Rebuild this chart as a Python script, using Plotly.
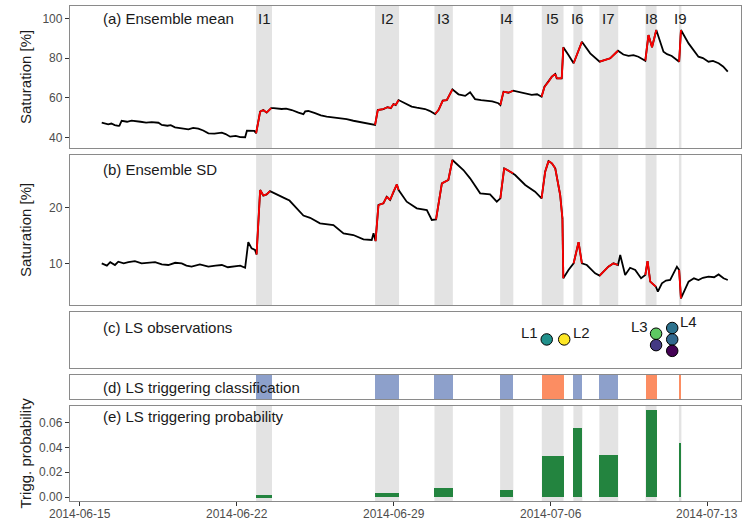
import pandas as pd
import plotly.graph_objects as go

BASE = pd.Timestamp("2014-06-15")

# ---------------- data (time in days since 2014-06-15 00:00) ----------------
mean_days = [0.97, 1.10, 1.26, 1.40, 1.55, 1.71, 1.76, 1.86, 2.10, 2.30, 2.46, 2.70, 2.95, 3.20,
             3.50, 3.65, 3.90, 4.05, 4.24, 4.50, 4.84, 5.05, 5.28, 5.50, 5.73, 6.00, 6.33, 6.50,
             6.70, 6.95, 7.15, 7.37, 7.45, 7.78, 7.86, 8.04, 8.18, 8.33, 8.53, 8.65, 9.00, 9.20,
             9.45, 9.75, 9.97, 10.05, 10.19, 10.49, 10.75, 11.01, 11.30, 11.61, 11.90, 12.20,
             12.50, 12.80, 13.17, 13.29, 13.54, 13.72, 13.87, 13.99, 14.09, 14.22, 14.58, 14.80,
             15.03, 15.20, 15.40, 15.60, 15.77, 15.85, 16.00, 16.19, 16.37, 16.62, 16.89, 17.19,
             17.41, 17.63, 17.90, 18.16, 18.40, 18.67, 18.76, 18.90, 19.12, 19.33, 19.57, 19.87,
             20.16, 20.40, 20.60, 20.73, 20.91, 21.06, 21.21, 21.28, 21.50, 21.57, 21.80, 22.03,
             22.40, 22.77, 23.19, 23.66, 24.01, 24.25, 24.48, 24.70, 24.92, 25.23, 25.37, 25.53,
             25.72, 26.04, 26.20, 26.41, 26.74, 26.82, 27.16, 27.40, 27.60, 27.80, 28.05, 28.25,
             28.50, 28.70, 28.91]
mean_vals = [47.5, 47.0, 46.7, 47.1, 46.3, 45.9, 46.0, 48.5, 48.0, 48.6, 48.5, 48.0, 47.6, 47.8,
             47.5, 46.4, 46.0, 46.3, 45.2, 44.8, 44.2, 44.9, 44.5, 43.6, 42.2, 42.0, 42.5, 41.8,
             40.5, 40.9, 40.3, 40.2, 43.5, 43.4, 42.2, 53.1, 53.9, 52.6, 54.8, 54.8, 54.4, 54.6,
             53.9, 52.6, 51.8, 53.2, 53.4, 52.3, 51.2, 50.6, 50.2, 49.7, 49.3, 48.5,
             47.9, 47.2, 46.4, 53.9, 54.4, 55.3, 54.8, 56.9, 56.4, 58.9, 56.9, 55.6,
             55.1, 54.7, 54.4, 53.5, 52.6, 51.9, 53.9, 58.6, 58.9, 64.3, 61.8, 61.0,
             62.8, 59.4, 58.9, 58.6, 58.2, 57.3, 56.4, 63.1, 62.6, 63.6, 63.0, 62.3,
             61.5, 61.8, 60.6, 65.6, 68.1, 70.7, 72.0, 69.8, 69.8, 85.4, 81.6, 77.4,
             88.2, 82.4, 78.2, 79.9, 83.7, 81.8, 81.1, 81.5, 80.7, 78.7, 91.6, 85.5,
             94.1, 83.2, 82.0, 81.1, 78.2, 94.1, 87.4, 83.5, 80.7, 80.0, 78.2, 78.6,
             77.4, 75.8, 73.2]

sd_days = [0.97, 1.20, 1.35, 1.56, 1.71, 1.95, 2.16, 2.45, 2.75, 3.05, 3.35, 3.65, 3.94, 4.25,
           4.54, 4.75, 4.98, 5.35, 5.73, 6.05, 6.33, 6.60, 6.92, 7.15, 7.37, 7.51, 7.66,
           7.81, 7.88, 8.04, 8.18, 8.33, 8.48, 8.71, 9.15, 9.35, 9.60, 9.97, 10.27, 10.71, 11.31,
           11.76, 12.20, 12.65, 13.02, 13.10, 13.19, 13.32, 13.54, 13.69, 13.84, 13.99, 14.14,
           14.22, 14.58, 15.03, 15.48, 15.70, 15.89, 16.15, 16.44, 16.62, 17.11, 17.41, 17.86,
           18.30, 18.60, 18.76, 18.93, 19.20, 19.33, 19.42, 19.87, 20.31, 20.60, 20.76, 20.91,
           21.06, 21.21, 21.43, 21.53, 21.57, 21.80, 22.03, 22.25, 22.40, 22.62, 22.99, 23.19,
           23.58, 23.81, 24.01, 24.11, 24.33, 24.55, 24.78, 25.04, 25.23, 25.33, 25.45, 25.70,
           25.79, 25.97, 26.15, 26.34, 26.64, 26.74, 26.82, 27.16, 27.40, 27.60, 27.80, 28.05,
           28.30, 28.50, 28.72, 28.91]
sd_vals = [10.0, 9.6, 10.2, 9.7, 10.3, 10.0, 10.2, 10.4, 10.0, 10.1, 10.2, 9.8, 9.7, 10.1,
           10.0, 9.6, 9.4, 9.8, 9.4, 9.6, 9.7, 9.3, 9.4, 9.6, 9.2, 13.8, 12.7,
           12.4, 11.6, 23.2, 22.2, 22.4, 23.0, 22.6, 21.7, 21.3, 20.2, 18.6, 18.2, 17.2, 16.9,
           15.4, 15.1, 14.3, 14.2, 15.4, 14.0, 20.5, 20.8, 22.0, 21.4, 22.9, 24.2,
           23.2, 21.1, 19.9, 19.6, 17.8, 17.9, 24.4, 25.0, 28.6, 26.8, 25.3, 22.6,
           22.4, 21.1, 21.7, 27.1, 26.5, 26.2, 25.9, 24.1, 22.9, 21.7, 26.5, 28.4,
           28.0, 27.1, 22.3, 18.1, 7.3, 8.8, 10.0, 13.8, 10.0, 9.7, 8.2, 7.8,
           9.4, 10.0, 9.7, 11.5, 7.9, 9.2, 8.8, 7.3, 7.9, 10.4, 6.7, 5.8,
           4.9, 6.4, 6.9, 7.0, 9.4, 8.8, 3.7, 6.7, 7.3, 7.0, 7.4, 7.6,
           7.5, 8.0, 7.3, 7.0]

interval_names = ["I1", "I2", "I3", "I4", "I5", "I6", "I7", "I8", "I9"]
interval_start = [7.86, 13.17, 15.82, 18.75, 20.61, 22.02, 23.18, 25.24, 26.73]
interval_end = [8.57, 14.24, 16.64, 19.34, 21.58, 22.42, 24.02, 25.73, 26.84]
interval_class = ["non-triggering", "non-triggering", "non-triggering", "non-triggering",
                  "triggering", "non-triggering", "non-triggering", "triggering", "triggering"]
trig_prob = [0.0016, 0.0038, 0.0078, 0.0060, 0.0332, 0.0557, 0.0337, 0.0699, 0.0436]

obs_group = ["L1", "L2", "L3", "L3", "L4", "L4", "L4"]
obs_days = [20.83, 21.61, 25.71, 25.71, 26.43, 26.43, 26.43]
obs_level = [0, 0, 1, -1, 2, 0, -2]
obs_colors = ["#21918C", "#FDE725", "#5EC962", "#443983", "#2C728E", "#31688E", "#440154"]

x_ticks = ["2014-06-15", "2014-06-22", "2014-06-29", "2014-07-06", "2014-07-13"]

# ---------------- helpers ----------------
def to_dt(days):
    return [BASE + pd.Timedelta(days=d) for d in days]

def in_interval(t):
    return any(s <= t <= e for s, e in zip(interval_start, interval_end))

def red_segments(days, vals):
    xs, ys = [], []
    for i in range(len(days) - 1):
        mid = 0.5 * (days[i] + days[i + 1])
        if in_interval(mid):
            xs += [days[i], days[i + 1], None]
            ys += [vals[i], vals[i + 1], None]
    xd = [BASE + pd.Timedelta(days=d) if d is not None else None for d in xs]
    return xd, ys

W, H = 743, 520
L, R, T, B = 70, 2, 6, 19
PW, PH = W - L - R, H - T - B

def px(x):
    return (x - L) / PW

def py(y):
    return (H - B - y) / PH

FONT = "Liberation Sans, Arial, sans-serif"
BORDER = "#8a8a8a"
BAND = "#E3E3E3"

fig = go.Figure()

# panel a / b lines
for (days, vals, ax) in [(mean_days, mean_vals, ""), (sd_days, sd_vals, "2")]:
    fig.add_trace(go.Scatter(x=to_dt(days), y=vals, mode="lines",
                             line=dict(color="black", width=1.8),
                             xaxis="x" + ax, yaxis="y" + ax, showlegend=False, hoverinfo="skip"))
    rx, ry = red_segments(days, vals)
    fig.add_trace(go.Scatter(x=rx, y=ry, mode="lines", line=dict(color="#FF0000", width=1.8),
                             xaxis="x" + ax, yaxis="y" + ax, showlegend=False, connectgaps=False,
                             hoverinfo="skip"))

# panel c: observations
fig.add_trace(go.Scatter(x=to_dt(obs_days), y=obs_level, mode="markers",
                         marker=dict(size=11.5, color=obs_colors, line=dict(color="black", width=1)),
                         xaxis="x3", yaxis="y3", showlegend=False))

centers = [BASE + pd.Timedelta(days=0.5 * (s + e)) for s, e in zip(interval_start, interval_end)]
widths_ms = [(e - s) * 86400000 for s, e in zip(interval_start, interval_end)]
class_colors = {"non-triggering": "#8DA0CB", "triggering": "#FC8D62"}

# panel d: classification
fig.add_trace(go.Bar(x=centers, y=[1] * len(centers), width=widths_ms,
                     marker=dict(color=[class_colors[c] for c in interval_class], line=dict(width=0)),
                     xaxis="x4", yaxis="y4", showlegend=False))
# panel e: probabilities
fig.add_trace(go.Bar(x=centers, y=trig_prob, width=widths_ms,
                     marker=dict(color="#23843F", line=dict(width=0)),
                     xaxis="x5", yaxis="y5", showlegend=False))

# gray interval bands
shapes = []
for s, e in zip(interval_start, interval_end):
    for yr in ["y domain", "y2 domain", "y5 domain"]:
        shapes.append(dict(type="rect", xref="x", yref=yr,
                           x0=BASE + pd.Timedelta(days=s), x1=BASE + pd.Timedelta(days=e),
                           y0=0, y1=1, fillcolor=BAND, line=dict(width=0), layer="below"))

xrange = [BASE + pd.Timedelta(days=-0.446), BASE + pd.Timedelta(days=29.5)]

domains = {
    "": [py(148), 1.0],
    "2": [py(305), py(155)],
    "3": [py(368), py(312)],
    "4": [py(399), py(375)],
    "5": [0, py(406)],
}

layout = dict(
    width=W, height=H, margin=dict(l=L, r=R, t=T, b=B, autoexpand=False),
    paper_bgcolor="white", plot_bgcolor="white",
    font=dict(family=FONT, size=12, color="#4D4D4D"),
    shapes=shapes, bargap=0, showlegend=False,
)

yranges = {"": [34.8, 106.2], "2": [2.5, 29.5], "3": [-5.0, 4.8], "4": [0, 1], "5": [-0.003, 0.0731]}
yticks = {"": [40, 60, 80, 100], "2": [10, 20], "5": [0, 0.02, 0.04, 0.06]}

for k in ["", "2", "3", "4", "5"]:
    xa = dict(range=xrange, type="date", showgrid=False, zeroline=False,
              showline=True, mirror=True, linecolor=BORDER, linewidth=1.3,
              anchor="y" + k, domain=[0, 1], automargin=False)
    if k != "":
        xa["matches"] = "x"
    if k == "5":
        # tick marks on the axis; labels are drawn as annotations just below
        xa.update(tickvals=[pd.Timestamp(t) for t in x_ticks], ticks="outside", ticklen=4,
                  tickcolor="#333333", tickwidth=1, showticklabels=False)
    else:
        xa.update(showticklabels=False, ticks="")
    ya = dict(range=yranges[k], domain=domains[k], showgrid=False, zeroline=False,
              showline=True, mirror=True, linecolor=BORDER, linewidth=1.3,
              anchor="x" + k, fixedrange=True, automargin=False)
    if k in yticks:
        ya.update(tickvals=yticks[k], ticks="outside", ticklen=4, tickcolor="#333333",
                  tickwidth=1, tickfont=dict(size=12, color="#4D4D4D"))
        if k == "5":
            ya["tickformat"] = ".2f"
    else:
        ya.update(showticklabels=False, ticks="")
    layout["xaxis" + k] = xa
    layout["yaxis" + k] = ya

annotations = []
for t in x_ticks:
    annotations.append(dict(text=t, xref="x5", yref="paper", x=pd.Timestamp(t), y=py(514),
                            xanchor="center", yanchor="middle", showarrow=False,
                            font=dict(size=12, color="#4D4D4D", family=FONT)))
panel_labels = [("(a) Ensemble mean", 18), ("(b) Ensemble SD", 169), ("(c) LS observations", 327),
                ("(d) LS triggering classification", 387), ("(e) LS triggering probability", 416)]
for txt, yy in panel_labels:
    annotations.append(dict(text=txt, xref="paper", yref="paper", x=px(101), y=py(yy),
                            xanchor="left", yanchor="middle", showarrow=False,
                            font=dict(size=15, color="#1A1A1A", family=FONT)))
for name, s, e in zip(interval_names, interval_start, interval_end):
    annotations.append(dict(text=name, xref="x", yref="paper",
                            x=BASE + pd.Timedelta(days=0.5 * (s + e)), y=py(18),
                            xanchor="center", yanchor="middle", showarrow=False,
                            font=dict(size=15, color="#1A1A1A", family=FONT)))
for txt, yy in [("Saturation [%]", 77), ("Saturation [%]", 230), ("Trigg. probability", 453.5)]:
    annotations.append(dict(text=txt, xref="paper", yref="paper", x=px(25), y=py(yy),
                            xanchor="center", yanchor="middle", textangle=-90, showarrow=False,
                            font=dict(size=15, color="#1A1A1A", family=FONT)))
# observation labels (placed next to the top point of each group)
label_pos = {"L1": ("right", -7), "L2": ("left", 7), "L3": ("right", -6), "L4": ("left", 6)}
seen = set()
for g, d, lv in sorted(zip(obs_group, obs_days, obs_level), key=lambda r: -r[2]):
    if g in seen:
        continue
    seen.add(g)
    anc, xs = label_pos[g]
    annotations.append(dict(text=g, xref="x3", yref="y3", x=BASE + pd.Timedelta(days=d), y=lv,
                            xanchor=anc, yanchor="middle", xshift=xs, yshift=7, showarrow=False,
                            font=dict(size=15, color="#1A1A1A", family=FONT)))
layout["annotations"] = annotations

fig.update_layout(**layout)
fig.write_html("out.html", config={"displayModeBar": False},
               post_script="document.body.style.margin='0';document.body.style.overflow='hidden';")
